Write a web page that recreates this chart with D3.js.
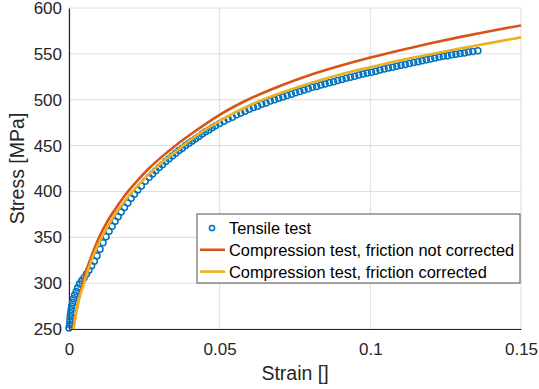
<!DOCTYPE html>
<html>
<head>
<meta charset="utf-8">
<script src="https://cdn.jsdelivr.net/npm/d3@7"></script>
<style>
  body { margin: 0; background: #fff; }
  svg { display: block; font-family: "Liberation Sans", Arial, sans-serif; }
</style>
</head>
<body>
<svg id="chart" width="539" height="389"></svg>
<script>
// tensile test (strain, stress in MPa)
const tensileStrain = [
  0.0000, 0.0002, 0.0003, 0.0004, 0.0005, 0.0007, 0.0009, 0.0012, 0.0015, 0.0019,
  0.0024, 0.0029, 0.0035, 0.0042, 0.0050, 0.0058, 0.0066, 0.0075, 0.0084, 0.0093,
  0.0103, 0.0113, 0.0123, 0.0133, 0.0143, 0.0153, 0.0163, 0.0173, 0.0184, 0.0195,
  0.0206, 0.0217, 0.0228, 0.0240, 0.0253,
  0.0266, 0.0277, 0.0288, 0.0299, 0.0310, 0.0321, 0.0332, 0.0343, 0.0354, 0.0365,
  0.0376, 0.0387, 0.0398, 0.0409, 0.0420, 0.0431, 0.0442, 0.0453, 0.0464, 0.0475,
  0.0486,
  0.0500, 0.0514, 0.0528, 0.0542, 0.0556, 0.0570, 0.0584, 0.0598, 0.0612, 0.0626,
  0.0640, 0.0654, 0.0668, 0.0682, 0.0696, 0.0710, 0.0724, 0.0738, 0.0752, 0.0766,
  0.0780, 0.0794, 0.0808, 0.0822, 0.0836, 0.0850, 0.0864, 0.0878, 0.0892, 0.0906,
  0.0920, 0.0934, 0.0948, 0.0962, 0.0976, 0.0990, 0.1004, 0.1018, 0.1032, 0.1046,
  0.1060, 0.1074, 0.1088, 0.1102, 0.1116, 0.1130, 0.1144, 0.1158, 0.1172, 0.1186,
  0.1200, 0.1214, 0.1228, 0.1242, 0.1256, 0.1270, 0.1284, 0.1298, 0.1312, 0.1326,
  0.1340, 0.1357
];
const tensileStress = [
  251, 255, 259, 263, 267, 271, 275, 279, 283, 287,
  291, 295, 299, 302.5, 306, 310, 314, 319, 324, 330,
  337, 344, 350.5, 356.5, 362, 367.5, 372.5, 377.5, 382.5, 387.5,
  392.5, 397, 401.5, 406, 411,
  415.5, 419, 422.5, 426, 429, 432.5, 435.5, 438.5, 441.5, 444.5,
  447, 450, 452.5, 455, 457.5, 460, 462.5, 465, 467, 469.5,
  471.5,
  474, 476.5, 479, 481, 483.5, 485.5, 487.5, 489.5, 491.5, 493,
  495, 496.5, 498.5, 500, 501.5, 503, 504.5, 506, 507.5, 509,
  510.5, 512, 513.5, 514.5, 516, 517, 518.5, 519.5, 521, 522,
  523.5, 524.5, 525.5, 527, 528, 529, 530, 531, 532.5, 533.5,
  534.5, 535.5, 536.5, 537.5, 538.5, 539.5, 540.5, 541.5, 542.5, 543.5,
  544.5, 545.5, 546.5, 547.5, 548, 549, 549.5, 550.5, 551, 552,
  552.5, 553.5
];

// compression test, friction not corrected
const rawStrain = [0.0014, 0.002, 0.003, 0.0046, 0.006, 0.008, 0.01, 0.0125, 0.015, 0.0175,
  0.0196, 0.023, 0.0265, 0.03, 0.0357, 0.042, 0.05, 0.06, 0.07,
  0.08, 0.09, 0.1, 0.11, 0.12, 0.13, 0.14, 0.15];
const rawStress = [250, 262, 279, 300, 316, 334, 350, 366, 379, 391,
  400, 413, 425, 435.5, 451, 466, 483.5, 501, 515,
  527, 537, 546, 554, 561.5, 568.5, 575, 581];

// compression test, friction corrected
const corrStrain = [0.0015, 0.0021, 0.0031, 0.005, 0.0065, 0.0085, 0.011, 0.0135, 0.016, 0.0185,
  0.0211, 0.024, 0.0269, 0.03, 0.035, 0.04, 0.045, 0.05, 0.06, 0.07,
  0.08, 0.09, 0.1, 0.11, 0.12, 0.13, 0.14, 0.15];
const corrStress = [250, 262, 279, 300, 316, 333.5, 351, 365.5, 378.5, 389.5,
  400, 410.5, 420, 429.5, 442.5, 455.5, 467, 477, 494, 507,
  518, 527.5, 535.5, 543, 549.5, 556, 562, 568];

const xTicks = [0, 0.05, 0.1, 0.15];
const yTicks = [250, 300, 350, 400, 450, 500, 550, 600];
const legendLabels = ["Tensile test", "Compression test, friction not corrected", "Compression test, friction corrected"];

const colors = { blue: "#0072BD", red: "#D95319", yellow: "#EDB120", ink: "#262626", grid: "#dcdcdc" };

const margin = { left: 69, top: 8, right: 18, bottom: 60 };
const width = 539, height = 389;
const svg = d3.select("#chart");

const x = d3.scaleLinear().domain([0, 0.15]).range([margin.left, width - margin.right]);
const y = d3.scaleLinear().domain([250, 600]).range([height - margin.bottom, margin.top]);

// grid
svg.append("g").selectAll("line").data(xTicks).join("line")
  .attr("x1", d => x(d)).attr("x2", d => x(d))
  .attr("y1", y(250)).attr("y2", y(600))
  .attr("stroke", colors.grid).attr("stroke-width", 1);
svg.append("g").selectAll("line").data(yTicks).join("line")
  .attr("x1", x(0)).attr("x2", x(0.15))
  .attr("y1", d => y(d)).attr("y2", d => y(d))
  .attr("stroke", colors.grid).attr("stroke-width", 1);

// axes
const xAxis = d3.axisBottom(x).tickValues(xTicks).tickSize(0).tickPadding(14).tickFormat(d3.format("~g"));
const yAxis = d3.axisLeft(y).tickValues(yTicks).tickSize(0).tickPadding(7);

const gx = svg.append("g").attr("transform", `translate(0,${y(250)})`).call(xAxis);
const gy = svg.append("g").attr("transform", `translate(${x(0)},0)`).call(yAxis);
[gx, gy].forEach(g => {
  g.select(".domain").attr("stroke", colors.ink).attr("stroke-width", 1.2);
  g.selectAll("text").attr("fill", colors.ink).attr("font-size", 17).attr("font-family", "Liberation Sans, Arial, sans-serif");
});

svg.append("text")
  .attr("x", (x(0) + x(0.15)) / 2).attr("y", 380)
  .attr("text-anchor", "middle").attr("fill", colors.ink).attr("font-size", 19.5)
  .text("Strain []");
svg.append("text")
  .attr("transform", `translate(24,${(y(250) + y(600)) / 2}) rotate(-90)`)
  .attr("text-anchor", "middle").attr("fill", colors.ink).attr("font-size", 19.5)
  .text("Stress [MPa]");

// series
const tensile = tensileStrain.map((s, i) => ({ s, v: tensileStress[i] }));
const raw = rawStrain.map((s, i) => ({ s, v: rawStress[i] }));
const corr = corrStrain.map((s, i) => ({ s, v: corrStress[i] }));

svg.append("g").selectAll("circle").data(tensile).join("circle")
  .attr("cx", d => x(d.s)).attr("cy", d => y(d.v)).attr("r", 3)
  .attr("fill", "none").attr("stroke", colors.blue).attr("stroke-width", 1.5);

const line = d3.line().x(d => x(d.s)).y(d => y(d.v)).curve(d3.curveMonotoneX);
svg.append("path").datum(raw).attr("d", line)
  .attr("fill", "none").attr("stroke", colors.red).attr("stroke-width", 2.6);
svg.append("path").datum(corr).attr("d", line)
  .attr("fill", "none").attr("stroke", colors.yellow).attr("stroke-width", 2.6);

// legend
const legend = svg.append("g").attr("transform", "translate(197,214)");
legend.append("rect").attr("width", 323).attr("height", 69)
  .attr("fill", "#fff").attr("stroke", colors.ink).attr("stroke-width", 0.8);
const rows = legend.selectAll("g.row").data(legendLabels).join("g")
  .attr("class", "row").attr("transform", (d, i) => `translate(0,${14 + i * 21.8})`);
rows.append("text").attr("x", 32).attr("y", 5.9)
  .attr("fill", "#000").attr("font-size", 16.4).text(d => d);
rows.filter((d, i) => i === 0).append("circle")
  .attr("cx", 15).attr("cy", 0).attr("r", 2.6)
  .attr("fill", "none").attr("stroke", colors.blue).attr("stroke-width", 1.5);
rows.filter((d, i) => i > 0).append("line")
  .attr("x1", 3).attr("x2", 28).attr("y1", 0).attr("y2", 0)
  .attr("stroke", (d, i) => i === 0 ? colors.red : colors.yellow).attr("stroke-width", 2.6);
</script>
</body>
</html>
